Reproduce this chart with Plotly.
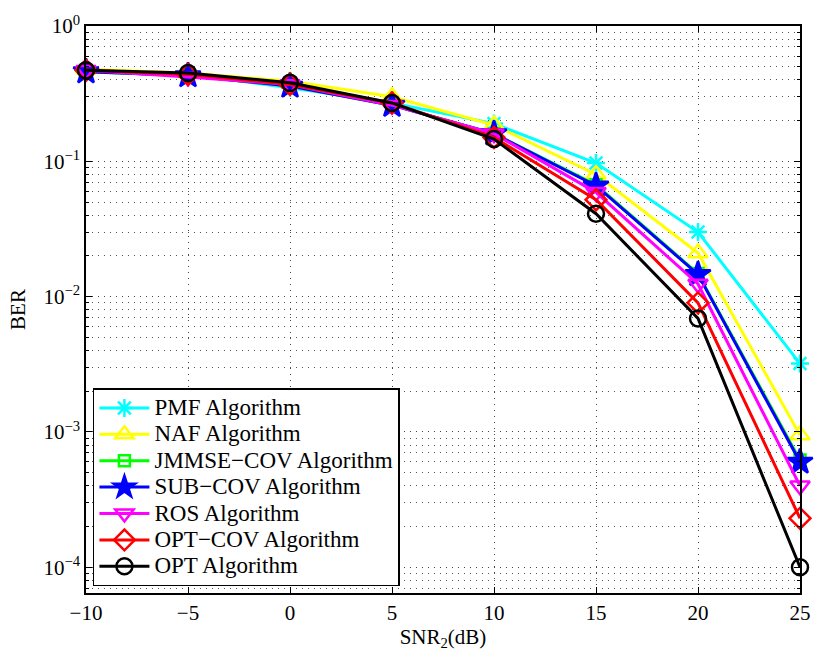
import plotly.graph_objects as go

snr = [-10, -5, 0, 5, 10, 15, 20, 25]

names = ["PMF Algorithm", "NAF Algorithm", "JMMSE−COV Algorithm", "SUB−COV Algorithm",
         "ROS Algorithm", "OPT−COV Algorithm", "OPT Algorithm"]

pmf    = [0.46, 0.44, 0.35, 0.27, 0.19, 0.097, 0.030, 0.0032]
naf    = [0.48, 0.45, 0.39, 0.30, 0.185, 0.080, 0.021, 0.00095]
jmmse  = [0.46, 0.43, 0.36, 0.26, 0.16, 0.067, 0.0148, 0.00062]
subcov = [0.46, 0.43, 0.36, 0.26, 0.16, 0.066, 0.0146, 0.00060]
ros    = [0.47, 0.42, 0.37, 0.26, 0.16, 0.059, 0.0124, 0.00040]
optcov = [0.47, 0.44, 0.37, 0.27, 0.15, 0.052, 0.0090, 0.00023]
opt    = [0.47, 0.45, 0.38, 0.27, 0.146, 0.041, 0.0069, 0.00010]

series = [pmf, naf, jmmse, subcov, ros, optcov, opt]
colors = ["#00FFFF", "#FFFF00", "#00FF00", "#0000FF", "#FF00FF", "#FF0000", "#000000"]
symbols = ["asterisk-open", "triangle-up-open", "square-open", "star",
           "triangle-down-open", "diamond-open", "circle-open"]
sizes = [15, 17, 11, 19, 17, 16, 16]

ytick_vals = [1, 0.1, 0.01, 0.001, 0.0001]
ytick_text = ["10<sup>0</sup>", "10<sup>−1</sup>", "10<sup>−2</sup>", "10<sup>−3</sup>", "10<sup>−4</sup>"]
xtick_vals = [-10, -5, 0, 5, 10, 15, 20, 25]
xtick_text = ["−10", "−5", "0", "5", "10", "15", "20", "25"]

minor_vals = [k * 10 ** e for e in range(-5, 0) for k in range(2, 10)]

fig = go.Figure()
for name, ys, c, s, sz in zip(names, series, colors, symbols, sizes):
    fig.add_trace(go.Scatter(
        x=snr, y=ys, name='<span style="font-size:23px">' + name + '</span>',
        mode="lines+markers", cliponaxis=False,
        line=dict(color=c, width=3),
        marker=dict(symbol=s, size=sz, color=c, line=dict(color=c, width=2.5)),
    ))

font = "Liberation Serif, Times New Roman, serif"
grid_dash = "1px,5px"
fig.update_layout(
    width=823, height=654,
    margin=dict(l=86, r=13, t=23, b=61),
    paper_bgcolor="white", plot_bgcolor="white",
    font=dict(family=font, size=21, color="black"),
    showlegend=True,
    legend=dict(
        x=0.0097, y=0.012, xanchor="left", yanchor="bottom",
        bgcolor="white", bordercolor="black", borderwidth=1.5,
        font=dict(family=font, size=18, color="black"),
        itemwidth=50, tracegroupgap=0,
    ),
)
fig.update_xaxes(
    range=[-10, 25], tickvals=xtick_vals, ticktext=xtick_text,
    showline=True, linecolor="black", linewidth=1.5, mirror="ticks",
    ticks="inside", ticklen=6, tickcolor="black",
    showgrid=True, gridcolor="#444", griddash=grid_dash, gridwidth=1,
    zeroline=False,
    title=dict(text="SNR<sub>2</sub>(dB)", font=dict(family=font, size=21), standoff=0),
)
fig.update_yaxes(
    type="log", range=[-4.19, 0], tickvals=ytick_vals, ticktext=ytick_text,
    showline=True, linecolor="black", linewidth=1.5, mirror="ticks",
    ticks="inside", ticklen=6, tickcolor="black",
    showgrid=True, gridcolor="#444", griddash=grid_dash, gridwidth=1,
    zeroline=False,
    minor=dict(tickvals=minor_vals, ticks="inside", ticklen=3, tickcolor="black",
               showgrid=True, gridcolor="#555", griddash=grid_dash, gridwidth=1),
    title=dict(text="BER", font=dict(family=font, size=21), standoff=12),
)

fig.write_html("out.html", config={"displayModeBar": False},
               post_script="document.body.style.margin='0';")
